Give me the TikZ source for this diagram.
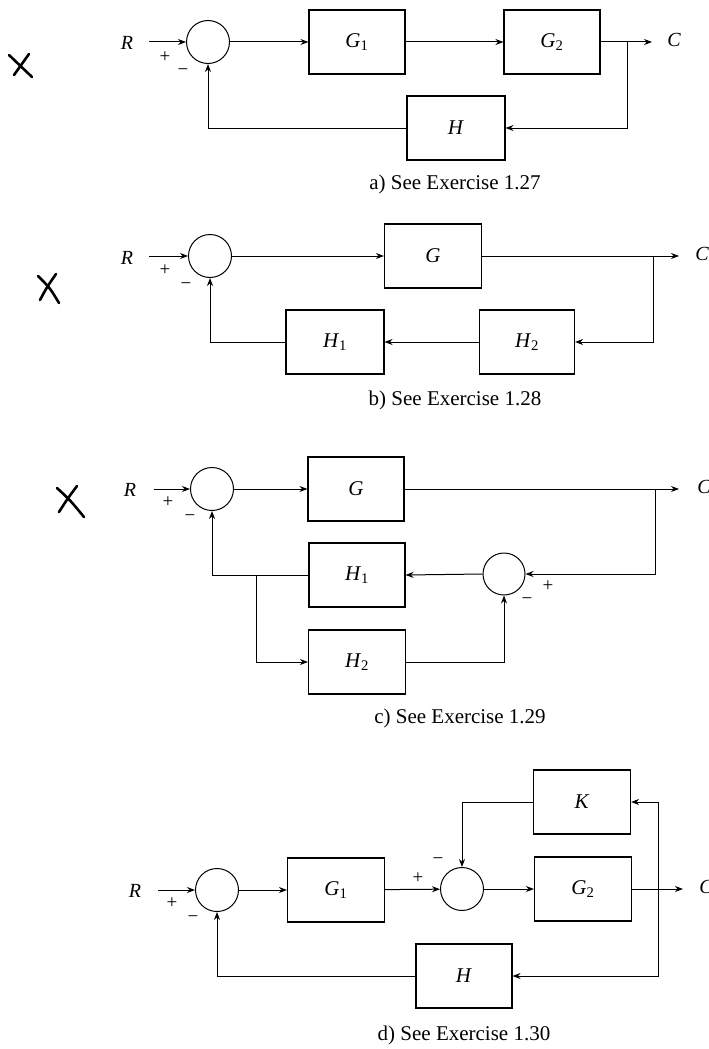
\documentclass[tikz,border=0pt]{standalone}
\usepackage{fontspec}
\setmainfont{Liberation Serif}
\usetikzlibrary{arrows.meta}
\begin{document}
\begin{tikzpicture}[x=1pt,y=-1pt,
  blk/.style={draw, line width=1.1pt, minimum width=96pt, minimum height=64pt, inner sep=0pt, font=\fontsize{21}{24}\selectfont},
  sumnode/.style={draw, circle, line width=1pt, minimum size=43pt, inner sep=0pt},
  conn/.style={line width=1pt},
  arr/.style={conn, -{Stealth[length=8pt,width=6pt]}},
  lbl/.style={font=\fontsize{20}{23}\selectfont\itshape, inner sep=0pt},
  sgn/.style={font=\fontsize{19}{21}\selectfont, inner sep=0pt},
  captxt/.style={font=\fontsize{21}{25}\selectfont, inner sep=0pt},
  xmark/.style={line width=2.6pt, line cap=round}]
\useasboundingbox[fill=white] (0,0) rectangle (709,1049);

% ---------------- panel a ----------------
\draw[xmark] (9,55) .. controls (20,66) .. (32,77);
\draw[xmark] (29,54) .. controls (21,64) .. (14,75);
\node[lbl] (a-R) at (127,43) {R};
\coordinate (a-in) at (149,42);
\node[sumnode] (a-s) at (208,42) {};
\node[blk] (a-G1) at (357,42) {\textit{G}\textsubscript{1}};
\node[blk] (a-G2) at (552,42) {\textit{G}\textsubscript{2}};
\node[blk, minimum width=98pt] (a-H) at (456,128) {\textit{H}};
\coordinate (a-br) at (627,42);
\coordinate (a-out) at (652,42);
\node[lbl] (a-C) at (674,40) {C};
\node[sgn] (a-p) at (165,57) {+};
\node[sgn] (a-m) at (183,72) {−};
\draw[arr] (a-in) -- (a-s);
\draw[arr] (a-s) -- (a-G1);
\draw[arr] (a-G1) -- (a-G2);
\draw[arr] (a-G2) -- (a-out);
\draw[arr] (a-br) |- (a-H.east);
\draw[arr] (a-H.west) -| (a-s.south);
\node[captxt] (a-cap) at (455,184) {a) See Exercise 1.27};

% ---------------- panel b ----------------
\draw[xmark] (38,276) .. controls (50,288) .. (59,303);
\draw[xmark] (56,274) .. controls (47,287) .. (40,300);
\node[lbl] (b-R) at (127,258) {R};
\coordinate (b-in) at (149,256);
\node[sumnode] (b-s) at (210,256) {};
\node[blk, minimum width=97pt] (b-G) at (433,256) {\textit{G}};
\node[blk, minimum width=95pt] (b-H2) at (527,342) {\textit{H}\textsubscript{2}};
\node[blk, minimum width=98pt] (b-H1) at (335,342) {\textit{H}\textsubscript{1}};
\coordinate (b-br) at (653,256);
\coordinate (b-out) at (679,256);
\node[lbl] (b-C) at (702,254) {C};
\node[sgn] (b-p) at (165,270) {+};
\node[sgn] (b-m) at (186,286) {−};
\draw[arr] (b-in) -- (b-s);
\draw[arr] (b-s) -- (b-G);
\draw[arr] (b-G) -- (b-out);
\draw[arr] (b-br) |- (b-H2.east);
\draw[arr] (b-H2) -- (b-H1);
\draw[arr] (b-H1.west) -| (b-s.south);
\node[captxt] (b-cap) at (455,400) {b) See Exercise 1.28};

% ---------------- panel c ----------------
\draw[xmark] (57,488) .. controls (70,500) .. (84,517);
\draw[xmark] (77,486) .. controls (68,498) .. (59,512);
\node[lbl] (c-R) at (130,490) {R};
\coordinate (c-in) at (154,489);
\node[sumnode] (c-s1) at (212,489) {};
\node[blk] (c-G) at (356,489) {\textit{G}};
\coordinate (c-br) at (655,489);
\coordinate (c-out) at (679,489);
\node[lbl] (c-C) at (704,487) {C};
\node[sumnode, minimum size=42pt] (c-s2) at (504,574) {};
\node[blk] (c-H1) at (357,575) {\textit{H}\textsubscript{1}};
\node[blk, minimum width=97pt] (c-H2) at (357,662) {\textit{H}\textsubscript{2}};
\coordinate (c-br2) at (256,575);
\node[sgn] (c-p1) at (168,502) {+};
\node[sgn] (c-m1) at (190,518) {−};
\node[sgn] (c-p2) at (548,586) {+};
\node[sgn] (c-m2) at (527,601) {−};
\draw[arr] (c-in) -- (c-s1);
\draw[arr] (c-s1) -- (c-G);
\draw[arr] (c-G) -- (c-out);
\draw[arr] (c-br) |- (c-s2.east);
\draw[arr] (c-s2.west) -- (c-H1.east);
\draw[arr] (c-H1.west) -| (c-s1.south);
\draw[arr] (c-br2) |- (c-H2.west);
\draw[arr] (c-H2.east) -| (c-s2.south);
\node[captxt] (c-cap) at (460,718) {c) See Exercise 1.29};

% ---------------- panel d ----------------
\node[lbl] (d-R) at (135,891) {R};
\coordinate (d-in) at (158,890);
\node[sumnode] (d-s1) at (217,890) {};
\node[blk, minimum width=97pt] (d-G1) at (336,890) {\textit{G}\textsubscript{1}};
\node[sumnode] (d-s2) at (462,889) {};
\node[blk, minimum width=97pt] (d-G2) at (583,889) {\textit{G}\textsubscript{2}};
\node[blk, minimum width=97pt] (d-K) at (582,802) {\textit{K}};
\node[blk] (d-H) at (464,976) {\textit{H}};
\coordinate (d-br) at (658,889);
\coordinate (d-out) at (683,889);
\node[lbl] (d-C) at (706,887) {C};
\node[sgn] (d-p1) at (172,903) {+};
\node[sgn] (d-m1) at (193,919) {−};
\node[sgn] (d-p2) at (418,878) {+};
\node[sgn] (d-m2) at (438,861) {−};
\draw[arr] (d-in) -- (d-s1);
\draw[arr] (d-s1) -- (d-G1);
\draw[arr] (d-G1) -- (d-s2);
\draw[arr] (d-s2) -- (d-G2);
\draw[arr] (d-G2) -- (d-out);
\draw[arr] (d-br) |- (d-K.east);
\draw[arr] (d-br) |- (d-H.east);
\draw[arr] (d-K.west) -| (d-s2.north);
\draw[arr] (d-H.west) -| (d-s1.south);
\node[captxt] (d-cap) at (464,1035) {d) See Exercise 1.30};
\end{tikzpicture}
\end{document}
